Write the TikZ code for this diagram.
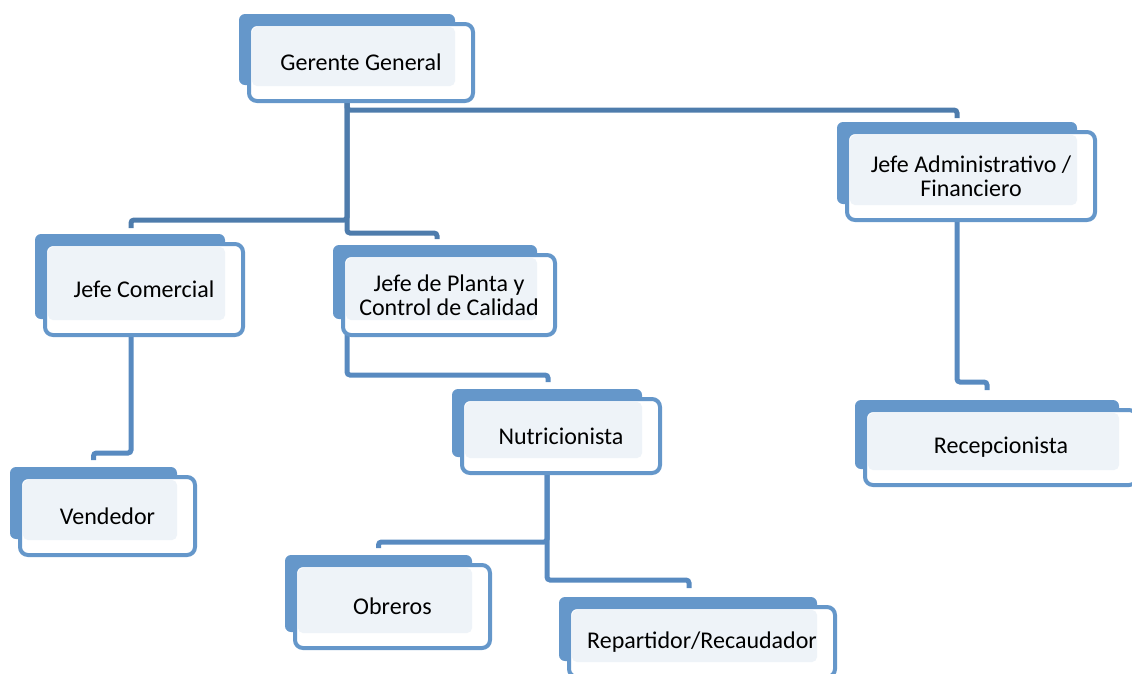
\documentclass[tikz,border=0pt]{standalone}
\usepackage{fontspec}
\setmainfont{Carlito}
\usetikzlibrary{calc,backgrounds}

\definecolor{boxblue}{RGB}{101,151,202}
\definecolor{boxfill}{RGB}{238,243,248}
\definecolor{linkdark}{RGB}{78,124,172}
\definecolor{linkblue}{RGB}{88,138,192}

\begin{document}
\begin{tikzpicture}[
  x=1pt, y=-1pt,
  every node/.style={font=\fontsize{24}{24}\selectfont, align=center, inner sep=0pt},
  post/.style={draw=boxblue, line width=4pt, fill=white, rounded corners=8pt, outer sep=0pt,
    path picture={\fill[boxfill, rounded corners=5pt]
      ($(path picture bounding box.north west)+(3,3)$) rectangle
      ($(path picture bounding box.south east)+(-18,-15)$);}},
  backing/.style={fill=boxblue, rounded corners=6pt},
  link/.style={draw=linkblue, line width=5pt, rounded corners=3pt},
  toplink/.style={link, draw=linkdark},
]
\useasboundingbox (0,0) rectangle (1132,673);

% the posts
\node[post, minimum width=224, minimum height=77] (gg) at (361,62.5) {Gerente General};
\node[post, minimum width=248, minimum height=88] (ja) at (971,176) {Jefe Administrativo /\\Financiero};
\node[post, minimum width=198, minimum height=91] (jc) at (144,289.5) {Jefe Comercial};
\node[post, minimum width=212, minimum height=80] (jp) at (449,295) {Jefe de Planta y\\Control de Calidad};
\node[post, minimum width=175, minimum height=78] (vend) at (107.5,516) {Vendedor};
\node[post, minimum width=198, minimum height=74] (nut) at (561,436) {Nutricionista};
\node[post, minimum width=272, minimum height=75] (rec) at (1001,447.5) {Recepcionista};
\node[post, minimum width=195, minimum height=83] (obr) at (392.5,606.5) {Obreros};
\node[post, minimum width=266, minimum height=70] (rep) at (702,642) {Repartidor/Recaudador};

\begin{scope}[on background layer]
  % blue plates behind each post
  \foreach \n in {gg,ja,jc,jp,vend,nut,rec,obr,rep}
    \fill[backing] ($(\n.north west)+(-10,-10)$) rectangle ($(\n.south east)+(-18,-16)$);

  % lines of report
  \draw[toplink] ($(gg.south)+(-14,0)$) |- ($(ja.north)+(-14,-22)$) -- ($(ja.north)+(-14,-14)$);
  \draw[toplink] ($(gg.south)+(-14,0)$) |- ($(jc.north)+(-13,-24)$) -- ($(jc.north)+(-13,-16)$);
  \draw[toplink] ($(gg.south)+(-14,0)$) |- ($(jp.north)+(-12,-22)$) -- ($(jp.north)+(-12,-16)$);
  \draw[link] ($(jc.south)+(-13,0)$) |- ($(vend.north)+(-14,-24)$) -- ($(vend.north)+(-14,-17)$);
  \draw[link] ($(jp.south west)+(4,0)$) |- ($(nut.north)+(-13,-24)$) -- ($(nut.north)+(-13,-17)$);
  \draw[link] ($(nut.south)+(-14,0)$) |- ($(obr.north)+(-14,-23)$) -- ($(obr.north)+(-14,-17)$);
  \draw[link] ($(nut.south)+(-14,0)$) |- ($(rep.north)+(-13,-27)$) -- ($(rep.north)+(-13,-19)$);
  \draw[link] ($(ja.south)+(-14,0)$) |- ($(rec.north)+(-14,-28)$) -- ($(rec.north)+(-14,-20)$);
\end{scope}
\end{tikzpicture}
\end{document}
